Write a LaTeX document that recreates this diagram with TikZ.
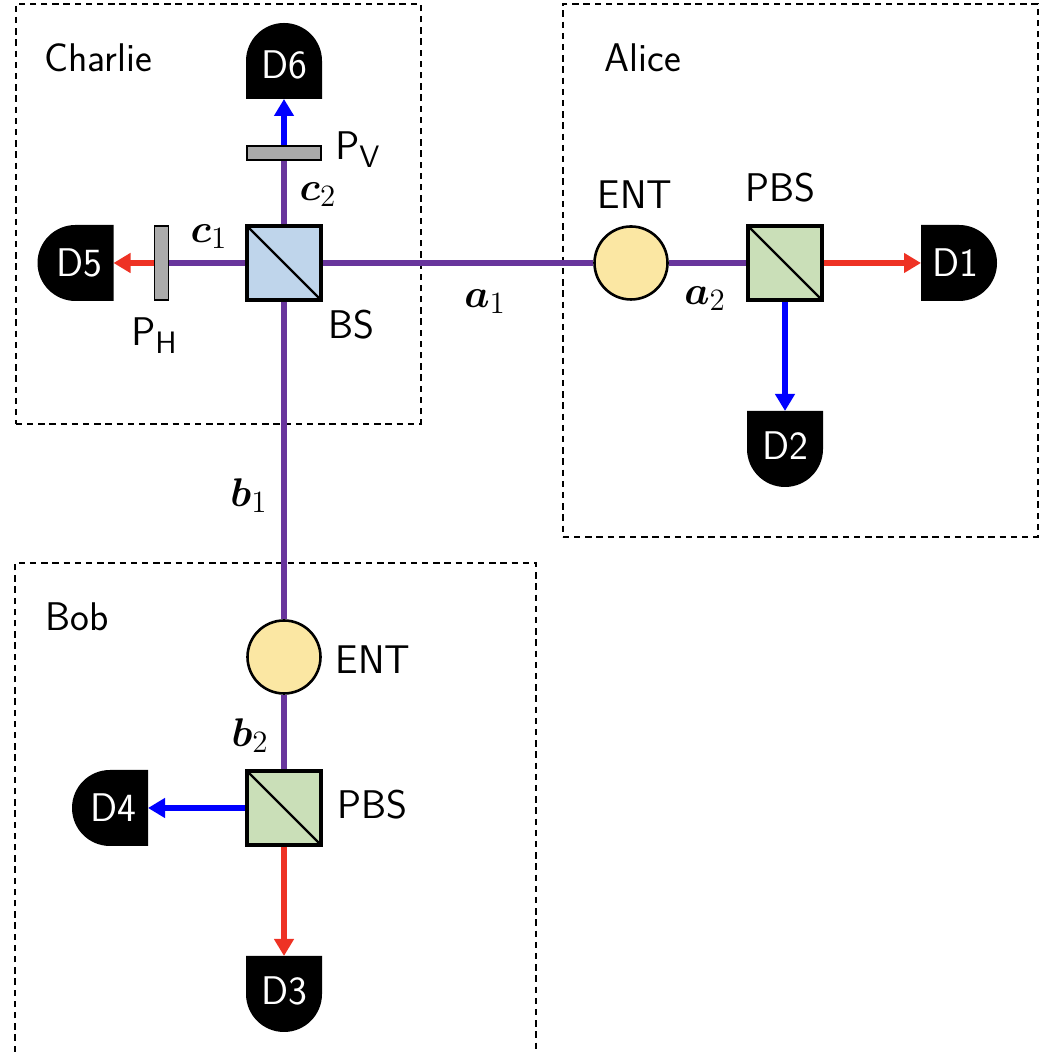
\documentclass[tikz,border=0pt]{standalone}
\usepackage{fix-cm}
\usepackage{amsmath}
\usetikzlibrary{arrows.meta}
\usetikzlibrary{positioning}
\DeclareMathSizes{20}{20}{15.5}{10}
\definecolor{beam}{RGB}{104,53,156}
\definecolor{beamred}{RGB}{238,50,36}
\definecolor{beamblue}{RGB}{0,0,255}
\definecolor{bsfill}{RGB}{191,213,235}
\definecolor{pbsfill}{RGB}{202,223,184}
\definecolor{entfill}{RGB}{251,231,163}
\definecolor{platefill}{RGB}{171,171,171}
\tikzset{
    every node/.style={font=\sffamily\fontsize{20}{24}\selectfont},
    zone/.style={draw, dash pattern=on 3.2pt off 2.4pt, line width=0.8pt, rectangle, anchor=north west, inner sep=0pt},
    zoneline/.style={dash pattern=on 3.2pt off 2.4pt, line width=0.8pt},
    cube/.style={draw, rectangle, line width=1.6pt, minimum size=37pt, inner sep=0pt, path picture={\draw [line width=1.2pt] (path picture bounding box.north west) -- (path picture bounding box.south east);}},
    ent/.style={draw, circle, fill=entfill, line width=1.3pt, minimum size=36.5pt, inner sep=0pt},
    plate/.style={draw, rectangle, fill=platefill, line width=0.9pt, inner sep=0pt},
    detector/.style={rectangle, minimum size=38pt, inner sep=0pt, outer sep=0pt, text=white},
    lowered/.style={text height=17.1pt, text depth=0pt},
    raised/.style={text height=13.9pt, text depth=3.2pt},
    beamline/.style={line width=2.9pt, color=beam},
    red arrow/.style={line width=2.9pt, color=beamred, -{Triangle[width=9.5pt,length=8.5pt]}},
    blue arrow/.style={line width=2.9pt, color=beamblue, -{Triangle[width=9.5pt,length=8.5pt]}},
}
% name, turn of the dome, placement, text style, text
\newcommand{\detector}[5]{
    \node (#1c) [#3, inner sep=0pt, outer sep=0pt] {};
    \fill [shift={(#1c.center)}, rotate=#2] (-19pt,-19pt) -- (19pt,-19pt) -- (19pt,0pt) arc [start angle=0, end angle=180, radius=19pt] -- cycle;
    \node (#1) [detector, #4] at (#1c.center) {#5};
}
\begin{document}
\begin{tikzpicture}[on grid]
    \useasboundingbox (0pt,0pt) rectangle (523pt,526pt);
    % the three parties
    \coordinate (charlienw) at (7.5pt,524.5pt);
    \coordinate (alicenw) at (281pt,524.5pt);
    \coordinate (bobnw) at (7.5pt,244.5pt);
    \coordinate (bobne) at (268pt,244.5pt);
    \coordinate (bobsw) at (7.5pt,0pt);
    \coordinate (bobse) at (268pt,0pt);
    \node (charlie) [zone, minimum width=202.5pt, minimum height=210pt] at (charlienw) {};
    \node (alice) [zone, minimum width=237.5pt, minimum height=266.5pt] at (alicenw) {};
    \draw [zoneline] (bobsw) -- (bobnw) -- (bobne) -- (bobse);
    \node [below right=27.5pt and 41.5pt of charlienw, anchor=center] {Charlie};
    \node [below right=27.5pt and 40.5pt of alicenw, anchor=center] {Alice};
    \node [below right=27pt and 31pt of bobnw, anchor=center] {Bob};

    % Charlie
    \node (bs) [cube, fill=bsfill] at (142pt,394.5pt) {};
    \node (pv) [plate, above=55pt of bs, minimum width=37pt, minimum height=7pt] {};
    \node (ph) [plate, left=61.25pt of bs, minimum width=7pt, minimum height=37pt] {};
    \detector{d6}{0}{above=101pt of bs}{lowered}{D6}
    \detector{d5}{90}{left=104.25pt of bs}{}{\hspace*{3.5pt}D5}

    % Alice
    \node (enta) [ent, right=173.5pt of bs] {};
    \node (pbsa) [cube, fill=pbsfill, right=77pt of enta] {};
    \detector{d1}{-90}{right=87pt of pbsa}{}{D1\hspace*{3.5pt}}
    \detector{d2}{180}{below=93pt of pbsa}{raised}{D2}

    % Bob
    \node (entb) [ent, below=197pt of bs] {};
    \node (pbsb) [cube, fill=pbsfill, below=75.5pt of entb] {};
    \detector{d3}{180}{below=93pt of pbsb}{raised}{D3}
    \detector{d4}{90}{left=87pt of pbsb}{}{\hspace*{3.5pt}D4}

    \draw [beamline] (bs.east) -- (enta.west);
    \draw [beamline] (enta.east) -- (pbsa.west);
    \draw [beamline] (bs.south) -- (entb.north);
    \draw [beamline] (entb.south) -- (pbsb.north);
    \draw [beamline] (bs.north) -- (pv.south);
    \draw [beamline] (bs.west) -- (ph.east);
    \draw [blue arrow] (pv.north) -- (d6.south);
    \draw [red arrow] (ph.west) -- (d5.east);
    \draw [red arrow] (pbsa.east) -- (d1.west);
    \draw [blue arrow] (pbsa.south) -- (d2.north);
    \draw [red arrow] (pbsb.south) -- (d3.north);
    \draw [blue arrow] (pbsb.west) -- (d4.east);

    \node [below right=31pt and 33.5pt of bs] {BS};
    \node [above right=56.5pt and 37pt of bs] {$\mathsf{P_V}$};
    \node [below left=36.5pt and 3.5pt of ph] {$\mathsf{P_H}$};
    \node [above right=34pt and 2pt of enta] {ENT};
    \node [above left=37.5pt and 2.5pt of pbsa] {PBS};
    \node [below right=1.5pt and 44.5pt of entb] {ENT};
    \node [above right=1.5pt and 44pt of pbsb] {PBS};
    \node [above right=34pt and 17pt of bs] {$\boldsymbol{c}_2$};
    \node [above left=13pt and 37.5pt of bs] {$\boldsymbol{c}_1$};
    \node [below right=19.5pt and 100.5pt of bs] {$\boldsymbol{a}_1$};
    \node [below left=18pt and 40pt of pbsa] {$\boldsymbol{a}_2$};
    \node [below left=116.5pt and 17.5pt of bs] {$\boldsymbol{b}_1$};
    \node [above left=36pt and 17pt of pbsb] {$\boldsymbol{b}_2$};
\end{tikzpicture}
\end{document}
